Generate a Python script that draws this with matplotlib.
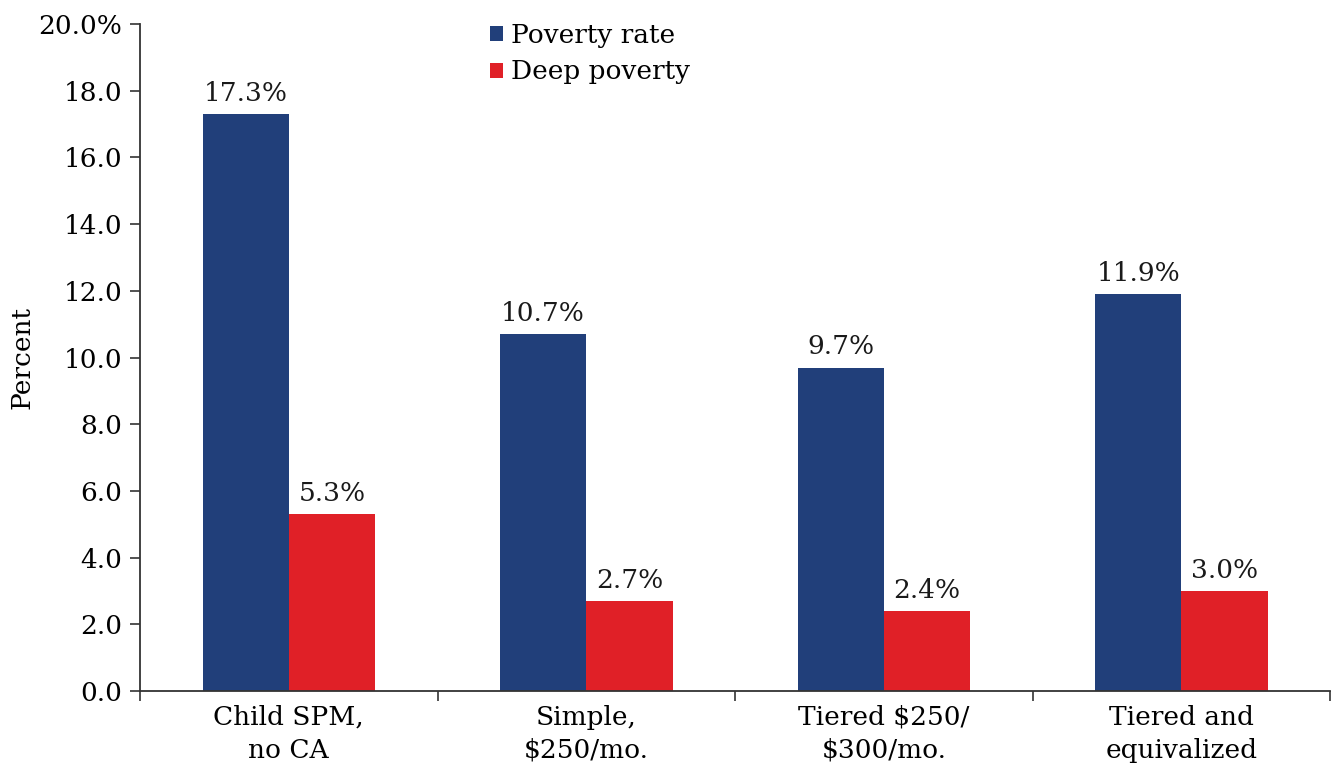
import numpy as np
import matplotlib.pyplot as plt
from matplotlib.ticker import FuncFormatter

categories = ["Child SPM,\nno CA", "Simple,\n$250/mo.", "Tiered $250/\n$300/mo.", "Tiered and\nequivalized"]
poverty_rate = [17.3, 10.7, 9.7, 11.9]
deep_poverty = [5.3, 2.7, 2.4, 3.0]
series_names = ["Poverty rate", "Deep poverty"]

BLUE = "#213F7A"
RED = "#E02027"
FS = 19

plt.rcParams['font.family'] = ['DejaVu Serif']
plt.rcParams['font.size'] = FS

fig = plt.figure(figsize=(13.39, 7.72), dpi=100)
ax = fig.add_axes([0.1046, 0.1049, 0.8887, 0.864])

x = np.arange(len(categories))
w = 0.29
b1 = ax.bar(x - w/2, poverty_rate, w, color=BLUE, label=series_names[0])
b2 = ax.bar(x + w/2, deep_poverty, w, color=RED, label=series_names[1])

for bars, vals in ((b1, poverty_rate), (b2, deep_poverty)):
    for r, v in zip(bars, vals):
        ax.text(r.get_x() + r.get_width()/2, v + 0.25, f"{v:.1f}%",
                ha='center', va='bottom', fontsize=FS, color='#1a1a1a')

ax.set_xlim(-0.5, len(categories) - 0.5)
ax.set_ylim(0, 20)
ax.set_yticks(np.arange(0, 20.1, 2))
ax.yaxis.set_major_formatter(FuncFormatter(lambda v, p: f"{v:.1f}%" if v >= 20 else f"{v:.1f}"))
ax.set_xticks(x)
ax.set_xticklabels(categories, fontsize=FS, linespacing=1.4)
ax.tick_params(axis='x', length=0, pad=10)
ax.set_xticks(np.arange(-0.5, len(categories)), minor=True)
ax.tick_params(axis='x', which='minor', length=7, direction='out', width=1.2, color='#333333')
ax.tick_params(axis='y', length=7, width=1.2, color='#333333', pad=6, labelsize=FS)

for s in ('top', 'right'):
    ax.spines[s].set_visible(False)
for s in ('left', 'bottom'):
    ax.spines[s].set_linewidth(1.3)
    ax.spines[s].set_color('#333333')

ax.set_ylabel("Percent", fontsize=FS)
ax.yaxis.set_label_coords(-0.089, 0.5)

ax.legend(loc='upper left', bbox_to_anchor=(0.285, 1.018), frameon=False, fontsize=FS,
          handlelength=0.5, handleheight=0.5, handletextpad=0.3, labelspacing=0.45,
          borderaxespad=0)

fig.savefig("out.png", dpi=100)
